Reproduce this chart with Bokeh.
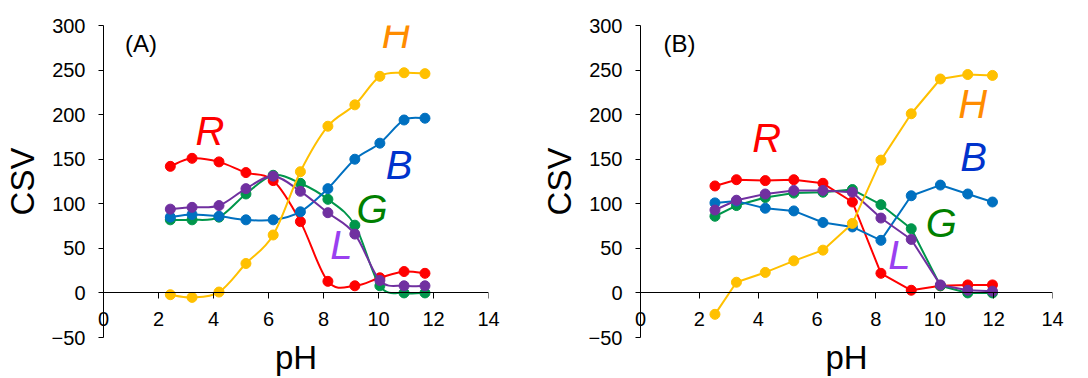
from bokeh.plotting import figure
from bokeh.models import Range1d, SingleIntervalTicker, Label, LinearAxis
from bokeh.layouts import row
from bokeh.embed import file_html
from bokeh.resources import INLINE

# ---- data ----
ph_a = [2.43, 3.22, 4.20, 5.18, 6.17, 7.16, 8.16, 9.14, 10.05, 10.93, 11.69]
R_a = [142, 151, 147, 135, 126, 80, 13, 8, 17, 24, 22]
G_a = [82, 82, 85, 111, 132, 123, 105, 76, 8, 0, 0]
B_a = [85, 88, 86, 82, 82, 91, 117, 150, 168, 194, 196]
L_a = [94, 96, 98, 117, 131, 114, 90, 66, 14, 8, 8]
H_a = [-2, -5, 1, 33, 65, 136, 187, 211, 243, 247, 246]

ph_b = [2.53, 3.26, 4.24, 5.21, 6.20, 7.20, 8.17, 9.20, 10.19, 11.12, 11.96]
R_b = [120, 127, 126, 127, 123, 102, 22, 3, 8, 9, 9]
G_b = [86, 98, 107, 112, 113, 116, 99, 72, 8, 0, 0]
B_b = [101, 103, 95, 92, 79, 74, 59, 109, 121, 111, 102]
L_b = [93, 104, 111, 115, 115, 113, 84, 60, 9, 3, 2]
H_b = [-24, 12, 23, 36, 48, 78, 149, 201, 240, 245, 244]

series_names = ["R", "G", "B", "L", "H"]
line_colors = {"R": "#FF0000", "G": "#00964B", "B": "#0070C0", "L": "#7030A0", "H": "#FFC000"}
label_colors = {"R": "#FF0000", "G": "#008000", "B": "#0033CC", "L": "#9A40F0", "H": "#FF8C00"}

# series-name label anchor positions (pH, CSV)
labels_a = {"R": (3.87, 182), "H": (10.64, 291), "B": (10.75, 143), "G": (9.77, 94), "L": (8.65, 54)}
labels_b = {"R": (4.29, 174), "H": (11.29, 212), "B": (11.32, 153), "G": (10.22, 78), "L": (8.8, 42)}

FONT = "Liberation Sans"


def smooth_controls(xs, ys):
    """Excel-like smoothed segments: cubic Bezier control points (Catmull-Rom, 1/6)."""
    n = len(xs)
    out = {k: [] for k in ("x0", "y0", "x1", "y1", "cx0", "cy0", "cx1", "cy1")}
    for i in range(n - 1):
        xp, yp = (xs[i - 1], ys[i - 1]) if i > 0 else (xs[i], ys[i])
        xn2, yn2 = (xs[i + 2], ys[i + 2]) if i + 2 < n else (xs[i + 1], ys[i + 1])
        out["x0"].append(xs[i]); out["y0"].append(ys[i])
        out["x1"].append(xs[i + 1]); out["y1"].append(ys[i + 1])
        out["cx0"].append(xs[i] + (xs[i + 1] - xp) / 6.0)
        out["cy0"].append(ys[i] + (ys[i + 1] - yp) / 6.0)
        out["cx1"].append(xs[i + 1] - (xn2 - xs[i]) / 6.0)
        out["cy1"].append(ys[i + 1] - (yn2 - ys[i]) / 6.0)
    return out


def style_axis(ax):
    ax.axis_line_color = "#000000"
    ax.axis_line_width = 1
    ax.major_tick_line_color = "#000000"
    ax.minor_tick_line_color = None
    ax.major_label_text_font = FONT
    ax.major_label_text_font_size = "20px"
    ax.major_label_text_color = "#000000"
    ax.axis_label_text_font = FONT
    ax.axis_label_text_font_size = "33px"
    ax.axis_label_text_font_style = "normal"
    ax.axis_label_text_color = "#000000"


def make_panel(tag, ph, data, labels, width, bl, br, smooth):
    p = figure(width=width, height=378, output_backend="svg", toolbar_location=None,
               x_range=Range1d(0, 14), y_range=Range1d(-50, 300),
               min_border_left=bl, min_border_right=br, min_border_top=25, min_border_bottom=40)
    p.outline_line_color = None
    p.grid.visible = False
    p.background_fill_color = "white"
    p.border_fill_color = "white"

    # y axis (left, outward ticks)
    yax = p.yaxis[0]
    style_axis(yax)
    yax.ticker = SingleIntervalTicker(interval=50)
    yax.major_tick_in = 0
    yax.major_tick_out = 5
    yax.major_label_standoff = 13
    yax.axis_label = "CSV"
    yax.axis_label_standoff = 8

    # bottom axis: only tick labels + title, lifted up under the zero line
    xax = p.xaxis[0]
    style_axis(xax)
    xax.ticker = SingleIntervalTicker(interval=2)
    xax.axis_line_color = None
    xax.major_tick_line_color = None
    xax.major_tick_in = 0
    xax.major_tick_out = 0
    xax.major_label_standoff = -30
    xax.axis_label = "pH"
    xax.axis_label_standoff = 10

    # zero-line axis: line + downward ticks, no labels
    zax = LinearAxis(ticker=SingleIntervalTicker(interval=2), fixed_location=0)
    style_axis(zax)
    zax.major_tick_in = 0
    zax.major_tick_out = 6
    zax.major_label_text_font_size = "0px"
    zax.major_label_text_color = None
    zax.major_label_standoff = 0
    p.add_layout(zax, "below")

    for name in series_names:
        ys = data[name]
        c = line_colors[name]
        if smooth:
            p.bezier(source=smooth_controls(ph, ys), x0="x0", y0="y0", x1="x1", y1="y1",
                     cx0="cx0", cy0="cy0", cx1="cx1", cy1="cy1", line_color=c, line_width=2)
        else:
            p.line(ph, ys, line_color=c, line_width=2)
        p.scatter(ph, ys, size=10, fill_color=c, line_color=c)

    for name, (lx, ly) in labels.items():
        p.add_layout(Label(x=lx, y=ly, text=name, text_font=FONT, text_font_size="40px",
                           text_font_style="italic", text_color=label_colors[name],
                           text_align="center", text_baseline="middle"))
    p.add_layout(Label(x=0.78, y=280, text=tag, text_font=FONT, text_font_size="24px",
                       text_color="#000000", text_align="left", text_baseline="middle"))
    return p


pa = make_panel("(A)", ph_a, {"R": R_a, "G": G_a, "B": B_a, "L": L_a, "H": H_a}, labels_a,
                537, 101, 49, True)
pb = make_panel("(B)", ph_b, {"R": R_b, "G": G_b, "B": B_b, "L": L_b, "H": H_b}, labels_b,
                551, 97, 36, False)

layout = row(pa, pb)
open("out.html", "w").write(file_html(layout, INLINE))
